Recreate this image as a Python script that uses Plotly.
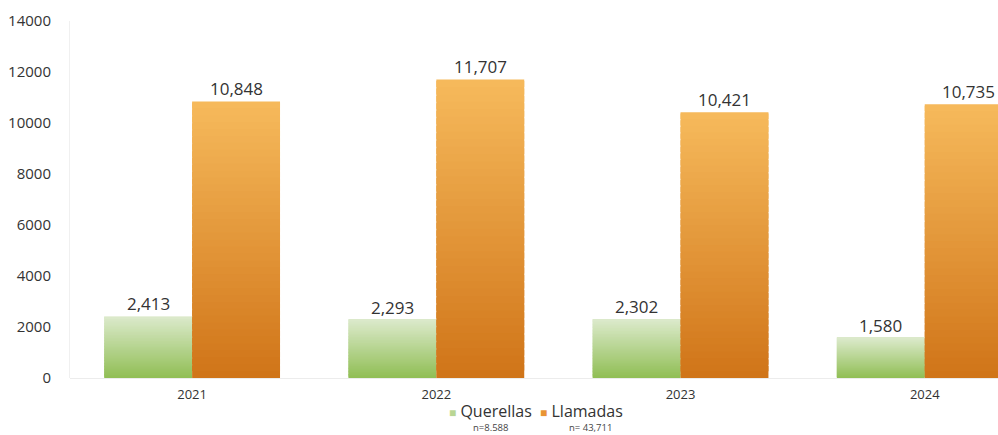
import plotly.graph_objects as go

years = ["2021", "2022", "2023", "2024"]
querellas = [2413, 2293, 2302, 1580]
llamadas = [10848, 11707, 10421, 10735]
series_names = ["Querellas", "Llamadas"]
n_labels = ["n=8.588", "n= 43,711"]
y_ticks = [0, 2000, 4000, 6000, 8000, 10000, 12000, 14000]

# vertical gradient stops (top colour, bottom colour) per series
grad = {
    "Querellas": ((220, 234, 204), (144, 190, 84)),
    "Llamadas": ((246, 186, 92), (208, 116, 24)),
}
legend_color = {"Querellas": "#b9d694", "Llamadas": "#e99433"}
FONT = "Open Sans"
N_SLICES = 40
X_RANGE = [-0.5, 3.30]
BARGAP = 0.28
PLOT_W = 998 - 70


def mix(c1, c2, t):
    return "rgb({},{},{})".format(*[round(a + (b - a) * t) for a, b in zip(c1, c2)])


fig = go.Figure()
for name, vals in zip(series_names, [querellas, llamadas]):
    top, bottom = grad[name]
    for k in range(N_SLICES):
        t = 1 - (k + 0.5) / N_SLICES  # 1 at bottom, 0 at top
        h = min(1.8, N_SLICES - k) / N_SLICES  # overlap hides seams
        fig.add_trace(go.Bar(
            x=years,
            y=[v * h for v in vals],
            base=[v * k / N_SLICES for v in vals],
            offsetgroup=name,
            marker=dict(color=mix(top, bottom, t), line=dict(width=0)),
            showlegend=False,
            hoverinfo="skip",
        ))

# value labels above each bar (category index used for x)
cat_px = PLOT_W / (X_RANGE[1] - X_RANGE[0])
bar_px = cat_px * (1 - BARGAP) / 2
annotations = []
for i, vals in enumerate([querellas, llamadas]):
    shift = (i - 0.5) * bar_px
    for j, v in enumerate(vals):
        annotations.append(dict(
            x=j, y=v, xref="x", yref="y", text=f"{v:,}", showarrow=False,
            xshift=shift, yshift=-1, yanchor="bottom", xanchor="center",
            font=dict(size=17, color="#333333", family=FONT),
        ))

# legend row and sample sizes
annotations.append(dict(
    x=(536 - 70) / PLOT_W, y=-0.093, xref="paper", yref="paper", showarrow=False,
    xanchor="center", yanchor="middle", borderpad=0,
    text=(f"<span style='color:{legend_color['Querellas']};font-size:12px'>■</span> Querellas"
          f"&nbsp;&nbsp;<span style='color:{legend_color['Llamadas']};font-size:12px'>■</span> Llamadas"),
    font=dict(size=16, color="#333333", family=FONT),
))
annotations.append(dict(
    x=(490 - 70) / PLOT_W, y=-0.14, xref="paper", yref="paper",
    text=n_labels[0], showarrow=False, font=dict(size=9.5, color="#444444", family=FONT),
    xanchor="center", yanchor="middle", borderpad=0))
annotations.append(dict(
    x=(590 - 70) / PLOT_W, y=-0.14, xref="paper", yref="paper",
    text=n_labels[1], showarrow=False, font=dict(size=9.5, color="#444444", family=FONT),
    xanchor="center", yanchor="middle", borderpad=0))

fig.update_layout(
    width=998,
    height=435,
    margin=dict(l=70, r=0, t=21, b=57),
    barmode="group",
    bargap=BARGAP,
    bargroupgap=0,
    plot_bgcolor="white",
    paper_bgcolor="white",
    font=dict(family=FONT, color="#333333", size=13),
    showlegend=False,
    xaxis=dict(
        type="category",
        range=X_RANGE,
        showgrid=False,
        showline=False,
        ticks="",
        ticklabelstandoff=7,
        tickfont=dict(size=13, color="#333333"),
    ),
    yaxis=dict(
        range=[0, 14000],
        tickvals=y_ticks,
        ticktext=[str(v) for v in y_ticks],
        showgrid=False,
        zeroline=True,
        zerolinecolor="#ececec",
        zerolinewidth=1,
        showline=True,
        linecolor="#f0f0f0",
        tickfont=dict(size=15, color="#333333"),
        ticklabelstandoff=15,
    ),
    annotations=annotations,
)

fig.write_html("out.html")
